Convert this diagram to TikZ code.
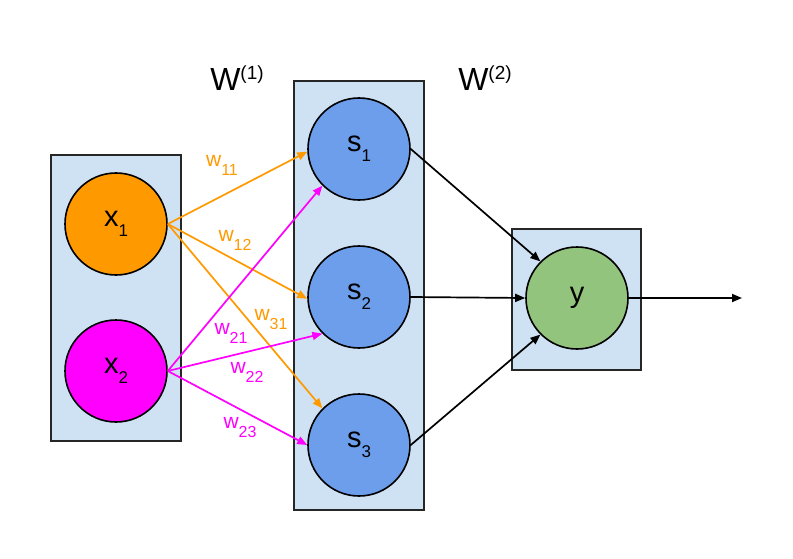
\documentclass[tikz,border=0pt]{standalone}
\usepackage{fontspec}
\setmainfont{Liberation Sans}
\usetikzlibrary{arrows.meta}
\definecolor{boxfill}{HTML}{CFE2F3}
\definecolor{orng}{HTML}{FF9900}
\definecolor{mgnt}{HTML}{FF00FF}
\definecolor{sblue}{HTML}{6D9EEB}
\definecolor{ygreen}{HTML}{93C47D}
\newcommand{\nlab}[2]{{\fontsize{29}{29}\selectfont #1}\raisebox{-10pt}{\fontsize{17}{17}\selectfont #2}}
\newcommand{\wlab}[2]{{\fontsize{21}{21}\selectfont #1}\raisebox{-9pt}{\fontsize{16}{16}\selectfont #2}}
\newcommand{\Wlab}[1]{{\fontsize{32}{32}\selectfont W}\raisebox{11pt}{\fontsize{19}{19}\selectfont (#1)}}
\begin{document}
\begin{tikzpicture}[x=1pt,y=-1pt,
  layerbox/.style={draw=black!85,line width=1.8pt,fill=boxfill,rectangle,inner sep=0pt},
  neuron/.style={draw=black,line width=1.6pt,circle,minimum size=102pt,inner sep=0pt},
  conn/.style={line width=1.7pt,-{Triangle[length=10pt,width=8pt]}},
  wl/.style={inner sep=0pt,anchor=center}]
\useasboundingbox (0,0) rectangle (793,559);
% boxes
\node[layerbox,minimum width=130pt,minimum height=286pt] (inbox) at (116,298) {};
\node[layerbox,minimum width=130pt,minimum height=429pt] (hidbox) at (359,295.5) {};
\node[layerbox,minimum width=129pt,minimum height=141pt] (outbox) at (576.5,299.5) {};
% neurons
\node[neuron,fill=orng] (x1) at (116,224) {\nlab{x}{1}};
\node[neuron,fill=mgnt] (x2) at (116,371) {\nlab{x}{2}};
\node[neuron,fill=sblue] (s1) at (359,149) {\nlab{s}{1}};
\node[neuron,fill=sblue] (s2) at (359,297) {\nlab{s}{2}};
\node[neuron,fill=sblue] (s3) at (359,445) {\nlab{s}{3}};
\node[neuron,fill=ygreen] (y) at (577,298) {{\fontsize{29}{29}\selectfont y}};
\coordinate (out) at (742,298);
% layer labels
\node[wl] (W1) at (237,78) {\Wlab{1}};
\node[wl] (W2) at (485,78) {\Wlab{2}};
% orange connectors
\draw[conn,orng] (x1.east) -- (s1.183);
\draw[conn,orng] (x1.east) -- (s2.182);
\draw[conn,orng] (x1.east) -- (s3.135);
% magenta connectors
\draw[conn,mgnt] (x2.east) -- (s1.225);
\draw[conn,mgnt] (x2.east) -- (s2.225);
\draw[conn,mgnt] (x2.east) -- (s3.west);
% black connectors
\draw[conn,black] (s1.east) -- (y.135);
\draw[conn,black] (s2.east) -- (y.west);
\draw[conn,black] (s3.east) -- (y.225);
\draw[conn,black] (y.east) -- (out);
% weight labels
\node[wl,text=orng] (w11) at (222,165) {\wlab{w}{11}};
\node[wl,text=orng] (w12) at (235,240) {\wlab{w}{12}};
\node[wl,text=orng] (w31) at (271,320) {\wlab{w}{31}};
\node[wl,text=mgnt] (w21) at (231,333) {\wlab{w}{21}};
\node[wl,text=mgnt] (w22) at (247,372) {\wlab{w}{22}};
\node[wl,text=mgnt] (w23) at (240,428) {\wlab{w}{23}};
\end{tikzpicture}
\end{document}
